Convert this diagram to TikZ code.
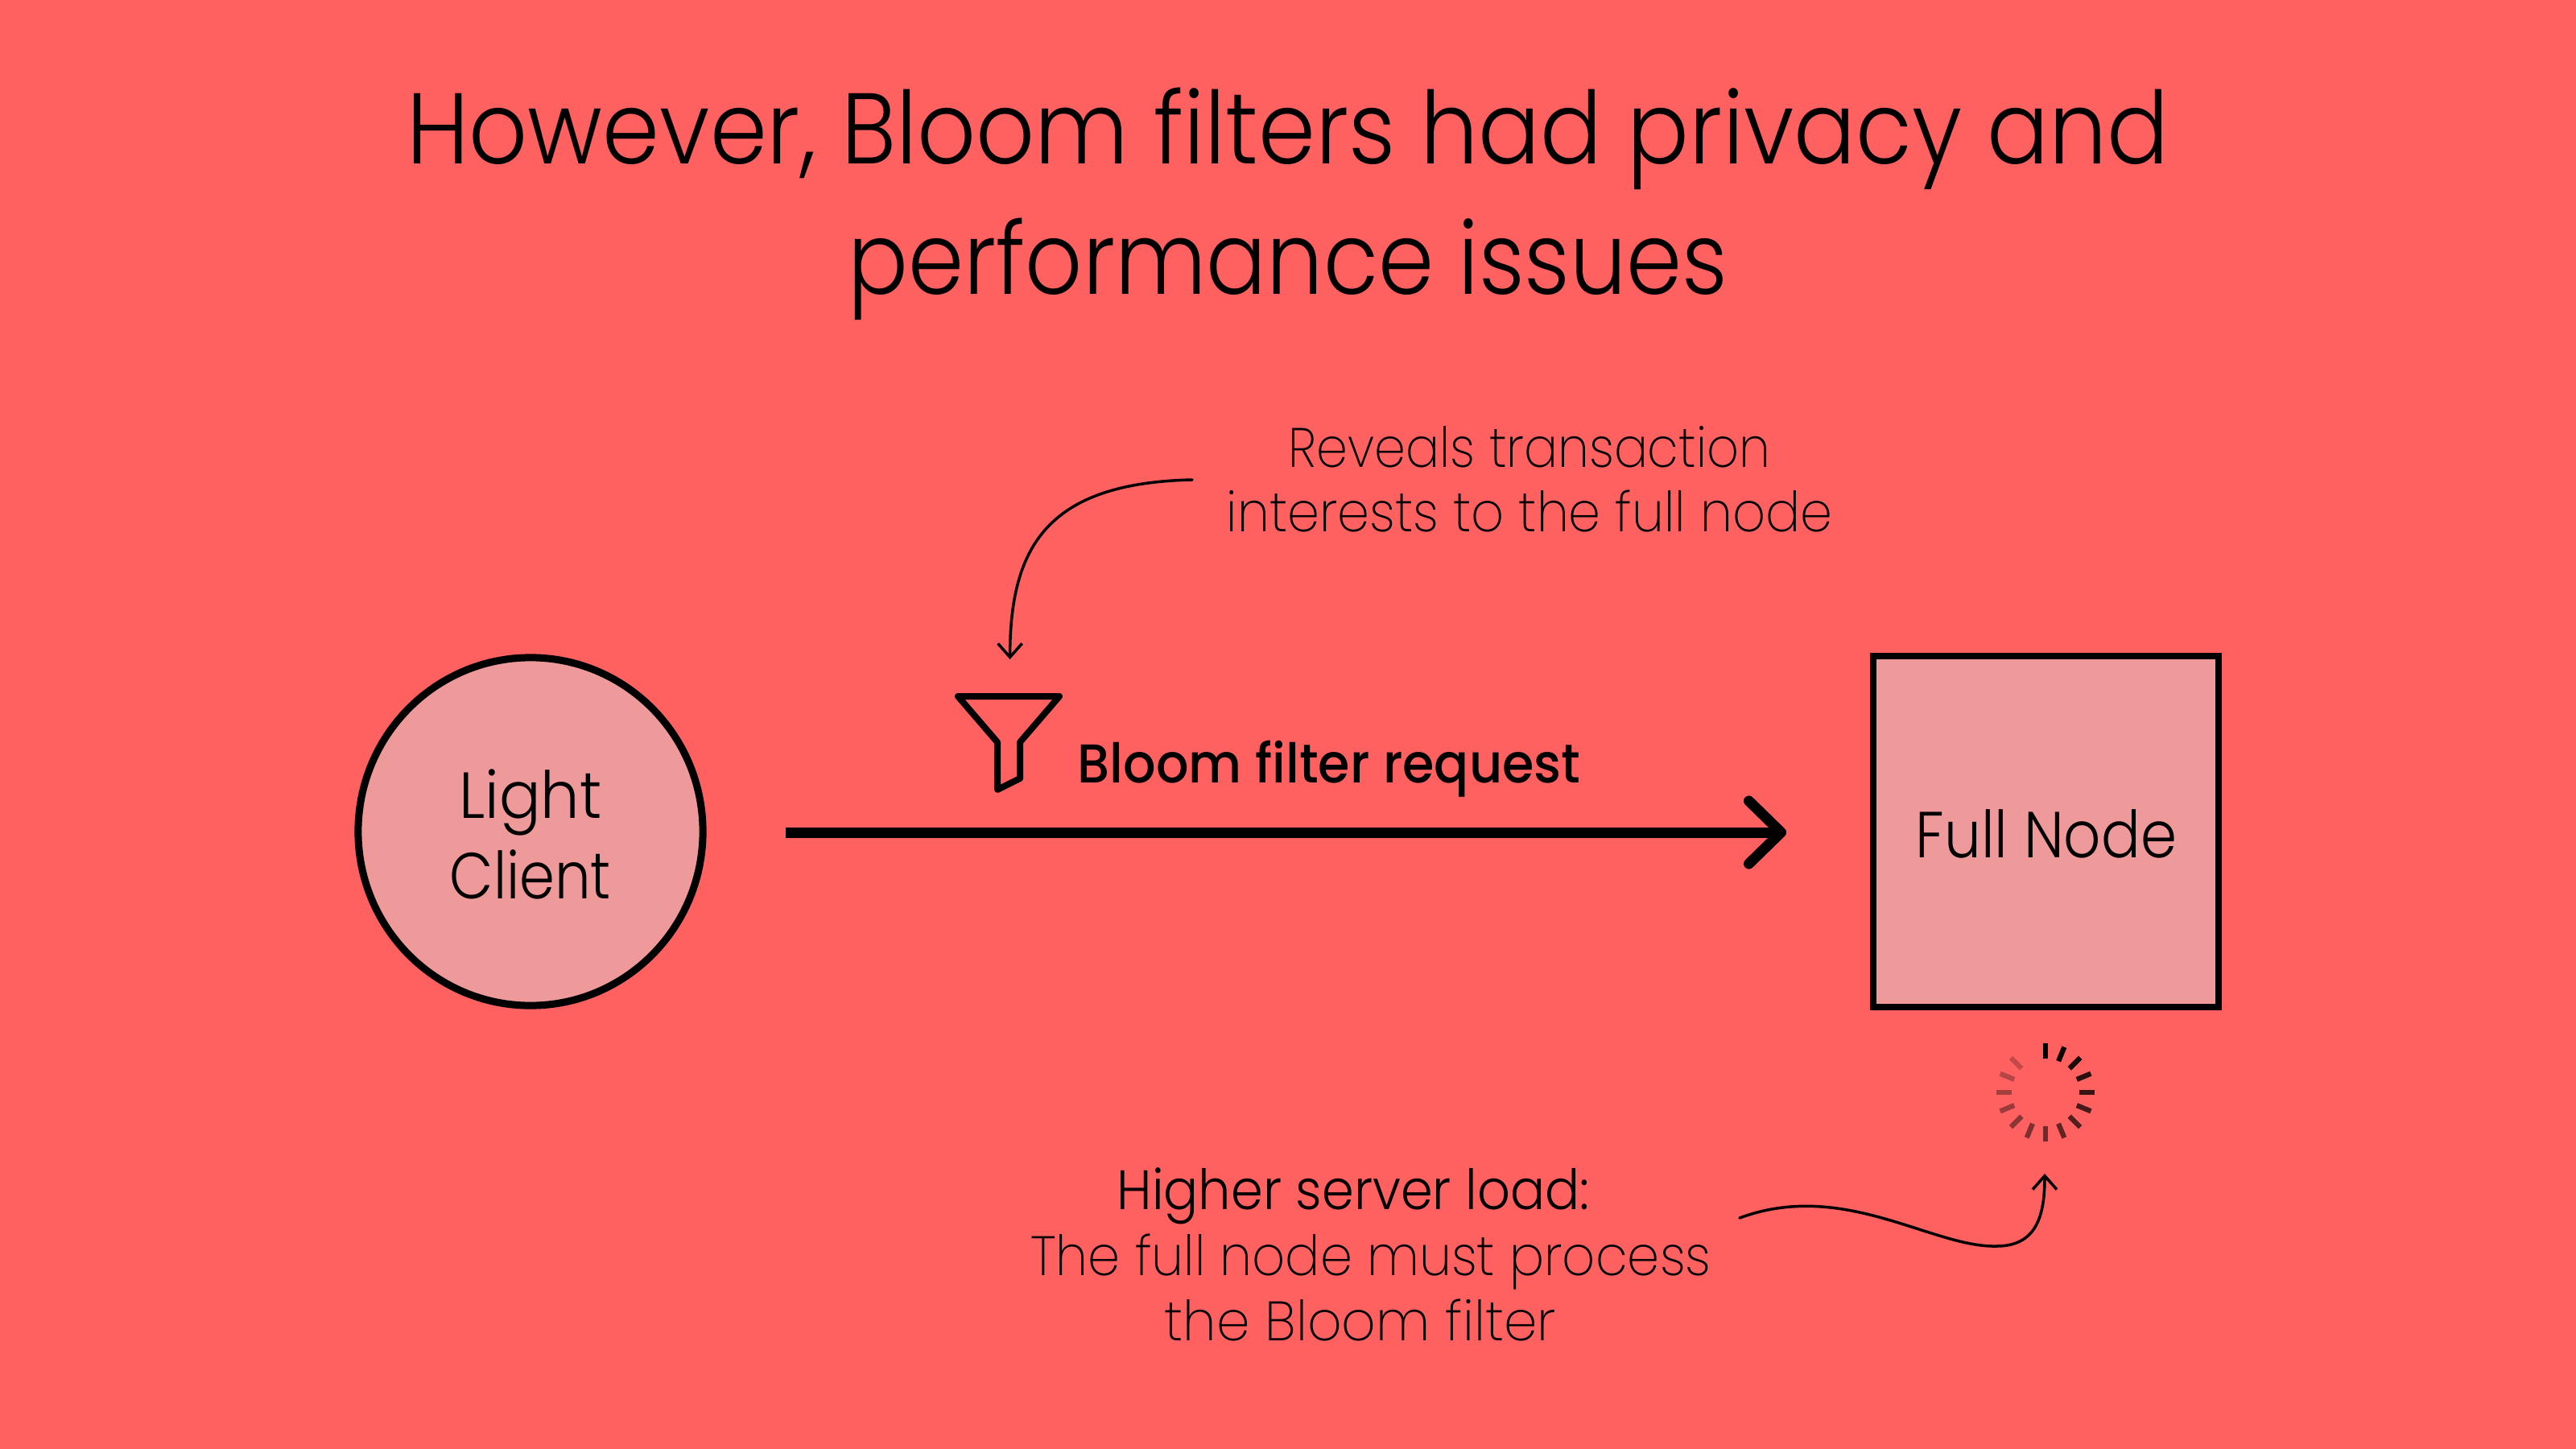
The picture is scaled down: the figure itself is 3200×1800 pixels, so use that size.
\documentclass[tikz,border=0pt]{standalone}
\usepackage{fontspec}
\usepackage{graphicx}
\usetikzlibrary{arrows.meta,shapes.geometric}
\setmainfont{Poppins}
\newfontfamily\ftitle{Poppins Light}
\newfontfamily\fnote{Poppins ExtraLight}
\newfontfamily\fbold{Poppins Medium}
\definecolor{bgred}{HTML}{FF6161}
\definecolor{pale}{HTML}{EE9A9A}
\newcommand\fitw[2]{\resizebox{#1cm}{\height}{#2}}
\tikzset{
  txt/.style={inner sep=0pt,outer sep=0pt,anchor=base,text=black},
  titletxt/.style={txt,font=\ftitle\fontsize{35.5pt}{40pt}\selectfont},
  notetxt/.style={txt,font=\fnote\fontsize{19.6pt}{22pt}\selectfont},
  boldtxt/.style={txt,font=\fbold\fontsize{19.3pt}{22pt}\selectfont},
  nodetxt/.style={txt,font=\ftitle\fontsize{23pt}{26pt}\selectfont},
  thin arrow/.style={draw=black,line width=0.035cm,line cap=round,-{Straight Barb[length=0.17cm,width=0.30cm,line width=0.035cm]}},
  spoke/.style={draw=black,line width=0.063cm}
}
\begin{document}
\begin{tikzpicture}[x=0.01cm,y=-0.01cm]
\useasboundingbox (0,0) rectangle (3200,1800);
\fill[bgred] (0,0) rectangle (3200,1800);
\node[titletxt] (t1) at (1600,204) {\fitw{21.88}{However, Bloom filters had privacy and}};
\node[titletxt] (t2) at (1600,365) {\fitw{10.92}{performance issues}};
\node[ellipse,draw=black,fill=pale,line width=0.09cm,minimum width=4.28cm,minimum height=4.32cm,inner sep=0pt] (lc) at (659,1033) {};
\node[nodetxt] (lc1) at (659,1016) {\fitw{1.77}{Light}};
\node[nodetxt] (lc2) at (659,1116) {\fitw{2.00}{Client}};
\node[rectangle,draw=black,fill=pale,line width=0.08cm,minimum width=4.28cm,minimum height=4.35cm,inner sep=0pt] (fn) at (2541.5,1033) {};
\node[nodetxt] (fnt) at (2542,1065) {\fitw{3.24}{Full Node}};
\coordinate (a1) at (976,1034);
\coordinate (a2) at (2219,1034);
\draw[line width=0.13cm,-{Straight Barb[round,length=0.4cm,width=0.78cm,line width=0.13cm]}] (a1) -- (a2);
\node[boldtxt] (bf) at (1651,972) {\fitw{6.24}{Bloom filter request}};
\draw[black,line width=0.08cm,line join=round,fill=none] (1190,865) -- (1316,865) -- (1267,922) -- (1267,967) -- (1239,981) -- (1239,922) -- cycle;
\node[notetxt] (n1) at (1900,580) {\fitw{5.98}{Reveals transaction}};
\node[notetxt] (n2) at (1900,660) {\fitw{7.52}{interests to the full node}};
\coordinate (c1s) at (1481,596);
\coordinate (c1e) at (1254.6,819);
\draw[thin arrow] (c1s) .. controls (1300,600) and (1254.6,680) .. (c1e);
\node[notetxt] (h1) at (1681,1502) {\ftitle\fitw{5.86}{Higher server load:}};
\node[notetxt] (h2) at (1703,1584) {\fitw{8.45}{The full node must process}};
\node[notetxt] (h3) at (1690,1665) {\fitw{4.86}{the Bloom filter}};
\coordinate (c2s) at (2161,1513);
\coordinate (c2e) at (2540,1458);
\draw[thin arrow] (c2s) .. controls (2290,1465) and (2400,1550) .. (2480,1548) .. controls (2530,1548) and (2540,1510) .. (c2e);
\foreach \i in {0,...,14}{
  \pgfmathsetmacro\ang{\i*22.5}
  \pgfmathsetmacro\op{1-0.055*\i}
  \draw[spoke,draw opacity=\op] ({2541+42*sin(\ang)},{1357-42*cos(\ang)}) -- ({2541+61*sin(\ang)},{1357-61*cos(\ang)});
}
\end{tikzpicture}
\end{document}
